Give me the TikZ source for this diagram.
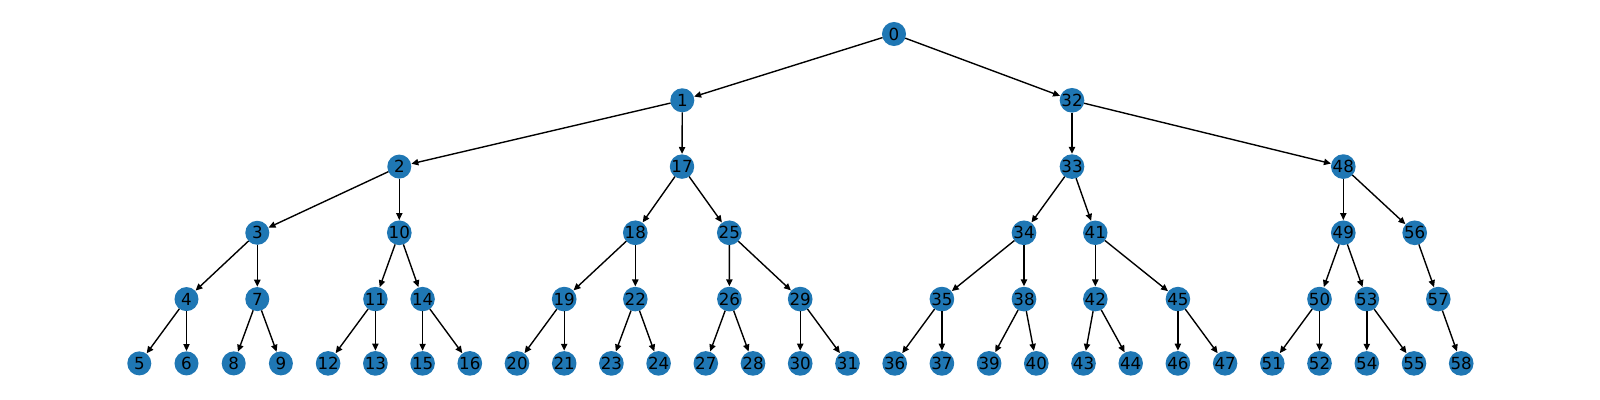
\documentclass[tikz,border=0pt]{standalone}
\usepackage{fontspec}
\setmainfont{DejaVu Sans}
\usetikzlibrary{arrows.meta}
\definecolor{mplblue}{HTML}{1F77B4}
\tikzset{
  nd/.style={circle,fill=mplblue,draw=none,minimum size=17.3pt,inner sep=0pt,outer sep=0pt,font=\fontsize{12pt}{12pt}\selectfont,text=black},
  ed/.style={draw=black,line width=1pt,-{Triangle[length=5pt,width=4.5pt]},shorten >=0.3pt}
}
\begin{document}
\begin{tikzpicture}[x=0.72pt,y=-0.72pt]
\useasboundingbox (0,0) rectangle (1600,400);
% level y
\def\Ya{34}\def\Yb{100.3}\def\Yc{166.6}\def\Yd{232.8}\def\Ye{299.1}\def\Yf{363.4}
\node[nd] (n0) at (894,\Ya) {0};
\node[nd] (n1) at (682.3,\Yb) {1};
\node[nd] (n32) at (1072,\Yb) {32};
\node[nd] (n2) at (399.3,\Yc) {2};
\node[nd] (n17) at (682,\Yc) {17};
\node[nd] (n33) at (1072,\Yc) {33};
\node[nd] (n48) at (1343.3,\Yc) {48};
\node[nd] (n3) at (257.3,\Yd) {3};
\node[nd] (n10) at (399.3,\Yd) {10};
\node[nd] (n18) at (635.3,\Yd) {18};
\node[nd] (n25) at (729.3,\Yd) {25};
\node[nd] (n34) at (1024,\Yd) {34};
\node[nd] (n41) at (1095.3,\Yd) {41};
\node[nd] (n49) at (1343.3,\Yd) {49};
\node[nd] (n56) at (1414.7,\Yd) {56};
\node[nd] (n4) at (186.5,\Ye) {4};
\node[nd] (n7) at (257.3,\Ye) {7};
\node[nd] (n11) at (375.4,\Ye) {11};
\node[nd] (n14) at (422.6,\Ye) {14};
\node[nd] (n19) at (564.2,\Ye) {19};
\node[nd] (n22) at (635.3,\Ye) {22};
\node[nd] (n26) at (729.4,\Ye) {26};
\node[nd] (n29) at (800.2,\Ye) {29};
\node[nd] (n35) at (941.9,\Ye) {35};
\node[nd] (n38) at (1024,\Ye) {38};
\node[nd] (n42) at (1095.3,\Ye) {42};
\node[nd] (n45) at (1177.9,\Ye) {45};
\node[nd] (n50) at (1319.5,\Ye) {50};
\node[nd] (n53) at (1366.8,\Ye) {53};
\node[nd] (n57) at (1438.3,\Ye) {57};
\node[nd] (n5) at (139.3,\Yf) {5};
\node[nd] (n6) at (186.5,\Yf) {6};
\node[nd] (n8) at (233.7,\Yf) {8};
\node[nd] (n9) at (280.9,\Yf) {9};
\node[nd] (n12) at (328.1,\Yf) {12};
\node[nd] (n13) at (375.4,\Yf) {13};
\node[nd] (n15) at (422.6,\Yf) {15};
\node[nd] (n16) at (469.8,\Yf) {16};
\node[nd] (n20) at (517.0,\Yf) {20};
\node[nd] (n21) at (564.2,\Yf) {21};
\node[nd] (n23) at (611.4,\Yf) {23};
\node[nd] (n24) at (658.6,\Yf) {24};
\node[nd] (n27) at (705.8,\Yf) {27};
\node[nd] (n28) at (753.0,\Yf) {28};
\node[nd] (n30) at (800.2,\Yf) {30};
\node[nd] (n31) at (847.5,\Yf) {31};
\node[nd] (n36) at (894.7,\Yf) {36};
\node[nd] (n37) at (941.9,\Yf) {37};
\node[nd] (n39) at (989.1,\Yf) {39};
\node[nd] (n40) at (1036.3,\Yf) {40};
\node[nd] (n43) at (1083.5,\Yf) {43};
\node[nd] (n44) at (1130.7,\Yf) {44};
\node[nd] (n46) at (1177.9,\Yf) {46};
\node[nd] (n47) at (1225.1,\Yf) {47};
\node[nd] (n51) at (1272.3,\Yf) {51};
\node[nd] (n52) at (1319.5,\Yf) {52};
\node[nd] (n54) at (1366.8,\Yf) {54};
\node[nd] (n55) at (1414.0,\Yf) {55};
\node[nd] (n58) at (1461.2,\Yf) {58};
\foreach \a/\b in {0/1,0/32,1/2,1/17,2/3,2/10,3/4,3/7,4/5,4/6,7/8,7/9,10/11,10/14,11/12,11/13,14/15,14/16,
  17/18,17/25,18/19,18/22,19/20,19/21,22/23,22/24,25/26,25/29,26/27,26/28,29/30,29/31,
  32/33,32/48,33/34,33/41,34/35,34/38,35/36,35/37,38/39,38/40,41/42,41/45,42/43,42/44,45/46,45/47,
  48/49,48/56,49/50,49/53,50/51,50/52,53/54,53/55,56/57,57/58}
  \draw[ed] (n\a) -- (n\b);
\end{tikzpicture}
\end{document}
